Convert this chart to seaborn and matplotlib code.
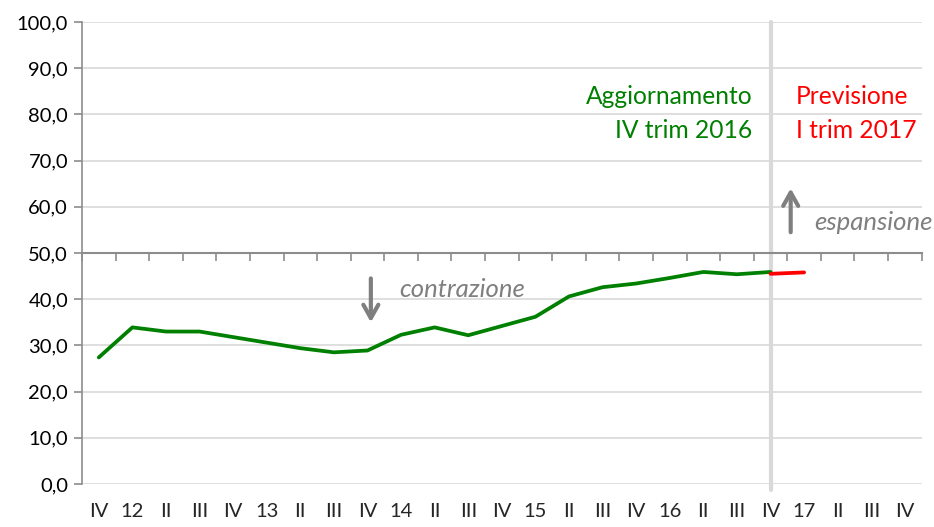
import matplotlib
matplotlib.use("Agg")
import matplotlib.pyplot as plt
import seaborn as sns
import numpy as np
import pandas as pd

categories = ["IV", "12", "II", "III", "IV", "13", "II", "III", "IV", "14", "II", "III",
              "IV", "15", "II", "III", "IV", "16", "II", "III", "IV", "17", "II", "III", "IV"]
aggiornamento = [27.4, 33.9, 33.0, 33.0, 31.8, 30.6, 29.4, 28.5, 28.9, 32.3, 33.9, 32.2,
                 34.2, 36.2, 40.6, 42.6, 43.4, 44.6, 45.9, 45.4, 45.9]
previsione = [45.5, 45.8]
prev_start = 20
ytick_vals = [0, 10, 20, 30, 40, 50, 60, 70, 80, 90, 100]

sns.set_theme(style="white")
plt.rcParams['font.family'] = ['Lato', 'DejaVu Sans']

green = "#008000"
red = "#ff0000"
gray = "#7f7f7f"

fig = plt.figure(figsize=(9.34, 5.27), dpi=100)
ax = fig.add_axes([0.0878, 0.0816, 0.899, 0.8766])

df_a = pd.DataFrame({"x": np.arange(len(aggiornamento)), "y": aggiornamento})
df_p = pd.DataFrame({"x": np.arange(prev_start, prev_start + len(previsione)), "y": previsione})

for v in ytick_vals:
    if v != 50:
        ax.axhline(v, color="#d9d9d9", lw=1.2, zorder=0)
ax.axvline(prev_start, color="#d9d9d9", lw=3, zorder=1, ymin=-0.012, clip_on=False)

sns.lineplot(data=df_a, x="x", y="y", color=green, lw=2.7, ax=ax, zorder=3)
sns.lineplot(data=df_p, x="x", y="y", color=red, lw=2.7, ax=ax, zorder=3)

ax.set_xlim(-0.5, len(categories) - 0.5)
ax.set_ylim(0, 100)
ax.set_xlabel("")
ax.set_ylabel("")

# y axis
ax.set_yticks(ytick_vals)
ax.set_yticklabels([f"{v:.1f}".replace(".", ",") for v in ytick_vals], fontsize=14.5)
ax.tick_params(axis="y", left=True, length=6, width=1.2, color="#8c8c8c", direction="out",
               pad=4, labelcolor="black")

# bottom spine at 50 with boundary ticks
for s in ["top", "right"]:
    ax.spines[s].set_visible(False)
ax.spines["left"].set_color("#8c8c8c")
ax.spines["left"].set_linewidth(1.2)
ax.spines["bottom"].set_position(("data", 50))
ax.spines["bottom"].set_color("#8c8c8c")
ax.spines["bottom"].set_linewidth(1.5)
ax.set_xticks(np.arange(-0.5, len(categories), 1.0))
ax.tick_params(axis="x", bottom=True, length=6, width=1.2, color="#8c8c8c", direction="out",
               labelbottom=False)

sec = ax.secondary_xaxis(0)
sec.set_xticks(np.arange(len(categories)))
sec.set_xticklabels(categories, fontsize=14.5)
sec.tick_params(axis="x", bottom=True, length=0, pad=14)
sec.spines["bottom"].set_visible(False)

# annotations
ax.text(19.47, 83.8, "Aggiornamento", color=green, fontsize=17.7, ha="right", va="center")
ax.text(19.47, 76.6, "IV trim 2016", color=green, fontsize=17.7, ha="right", va="center")
ax.text(20.75, 83.8, "Previsione", color=red, fontsize=17.7, ha="left", va="center")
ax.text(20.75, 76.6, "I trim 2017", color=red, fontsize=17.7, ha="left", va="center")

arrow_style = dict(arrowstyle="->,head_width=0.45,head_length=0.8", color=gray, lw=3,
                   shrinkA=0, shrinkB=0)
ax.annotate("", xy=(8.1, 35.0), xytext=(8.1, 44.5), arrowprops=arrow_style)
ax.annotate("", xy=(20.6, 64.0), xytext=(20.6, 54.5), arrowprops=arrow_style)
ax.text(8.95, 42.0, "contrazione", color=gray, fontsize=18.5, style="italic", ha="left", va="center")
ax.text(21.3, 56.7, "espansione", color=gray, fontsize=18.5, style="italic", ha="left", va="center",
        clip_on=False)

fig.savefig("out.png", dpi=100)
